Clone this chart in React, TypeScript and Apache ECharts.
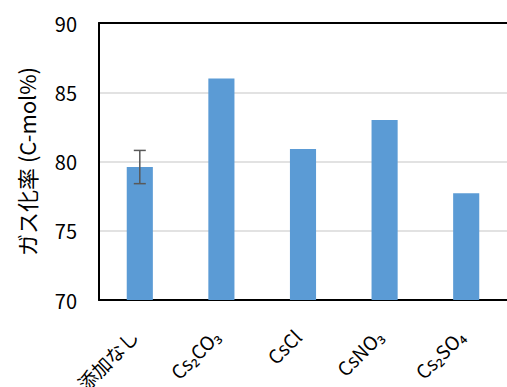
import React, { useEffect, useRef } from "react";
import * as echarts from "echarts";

const categories = ["添加なし", "Cs₂CO₃", "CsCl", "CsNO₃", "Cs₂SO₄"];
const values = [79.6, 86.0, 80.9, 83.0, 77.7];
const errLow = [78.4, null, null, null, null];
const errHigh = [80.8, null, null, null, null];
const yTicks = [70, 75, 80, 85, 90];

const FONT = "'Noto Sans CJK JP', 'Noto Sans', sans-serif";

export default function App() {
  const ref = useRef<HTMLDivElement>(null);
  useEffect(() => {
    if (!ref.current) return;
    const chart = echarts.init(ref.current, null, { renderer: "svg" });
    const errData = categories
      .map((c, i) => (errLow[i] != null ? [i, errLow[i], errHigh[i]] : null))
      .filter((d) => d != null);
    chart.setOption({
      animation: false,
      backgroundColor: "#ffffff",
      grid: { left: 99, top: 23, right: 0, bottom: 87, containLabel: false, outerBoundsMode: "none" },
      xAxis: [
        {
          type: "category",
          data: categories,
          axisLine: { show: true, lineStyle: { color: "#000", width: 2 } },
          axisTick: { show: false },
          axisLabel: {
            rotate: 45,
            fontSize: 19,
            color: "#000",
            fontFamily: FONT,
            margin: 27,
            padding: [0, 8, 0, 0],
            interval: 0,
          },
        },
        {
          type: "category",
          data: categories,
          position: "top",
          axisLine: { show: true, lineStyle: { color: "#000", width: 2 } },
          axisTick: { show: false },
          axisLabel: { show: false },
        },
      ],
      yAxis: {
        type: "value",
        min: yTicks[0],
        max: yTicks[yTicks.length - 1],
        interval: 5,
        name: "ガス化率 (C-mol%)",
        nameLocation: "middle",
        nameGap: 62,
        nameTextStyle: { fontSize: 22, color: "#000", fontFamily: FONT },
        axisLine: { show: true, lineStyle: { color: "#000", width: 2 } },
        axisTick: { show: false },
        axisLabel: { fontSize: 20, color: "#000", fontFamily: FONT, margin: 22 },
        splitLine: { show: true, lineStyle: { color: "#d9d9d9", width: 1.5 } },
      },
      series: [
        {
          type: "bar",
          data: values,
          barWidth: "32%",
          itemStyle: { color: "#5b9bd5" },
        },
        {
          type: "custom",
          data: errData,
          z: 10,
          renderItem: (params: any, api: any) => {
            const x = api.value(0);
            const lo = api.coord([x, api.value(1)]);
            const hi = api.coord([x, api.value(2)]);
            const half = 6;
            const style = { stroke: "#595959", lineWidth: 1.5 };
            return {
              type: "group",
              children: [
                { type: "line", shape: { x1: hi[0], y1: hi[1], x2: lo[0], y2: lo[1] }, style },
                { type: "line", shape: { x1: hi[0] - half, y1: hi[1], x2: hi[0] + half, y2: hi[1] }, style },
                { type: "line", shape: { x1: lo[0] - half, y1: lo[1], x2: lo[0] + half, y2: lo[1] }, style },
              ],
            };
          },
        },
      ],
    });
    return () => chart.dispose();
  }, []);
  return <div ref={ref} style={{ width: 507, height: 387, position: "absolute", left: 0, top: 0 }} />;
}
